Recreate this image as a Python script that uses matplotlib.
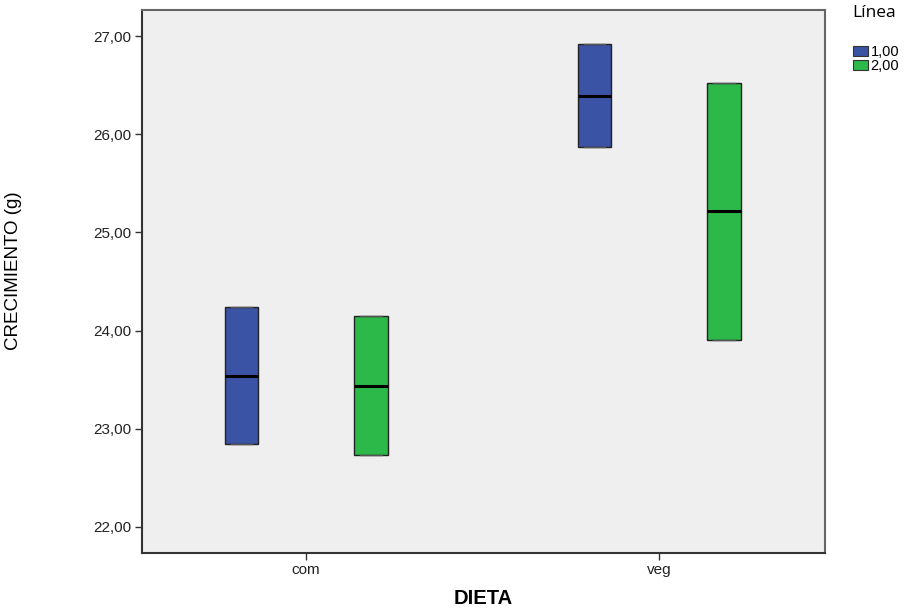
import matplotlib

matplotlib.use("Agg")
import matplotlib.pyplot as plt
from matplotlib.patches import Patch
from matplotlib.ticker import FuncFormatter

# data (boxes only, whiskers collapse on the box)
dietas = ["com", "veg"]
lineas = ["1,00", "2,00"]
q1 = {"1,00": [22.85, 25.87], "2,00": [22.73, 23.90]}
mediana = {"1,00": [23.54, 26.39], "2,00": [23.44, 25.22]}
q3 = {"1,00": [24.24, 26.92], "2,00": [24.15, 26.52]}
colores = {"1,00": "#3A53A4", "2,00": "#2DB84A"}
y_ticks = [22, 23, 24, 25, 26, 27]

plt.rcParams["font.family"] = ["Liberation Sans", "DejaVu Sans"]

fig = plt.figure(figsize=(9.09, 6.09), dpi=100)
ax = fig.add_axes([142 / 909, 1 - 553 / 609, 683 / 909, 543 / 609])
ax.set_facecolor("#EFEFEF")

offsets = {"1,00": -0.184, "2,00": 0.184}
for linea in lineas:
    stats = []
    for i, d in enumerate(dietas):
        stats.append({
            "med": mediana[linea][i], "q1": q1[linea][i], "q3": q3[linea][i],
            "whislo": q1[linea][i], "whishi": q3[linea][i], "fliers": [],
        })
    pos = [i + offsets[linea] for i in range(len(dietas))]
    ax.bxp(stats, positions=pos, widths=0.094, patch_artist=True,
           showfliers=False, manage_ticks=False,
           boxprops=dict(facecolor=colores[linea], edgecolor="#222222", linewidth=1.0),
           medianprops=dict(color="black", linewidth=2.2),
           whiskerprops=dict(color="#222222", linewidth=1.0),
           capprops=dict(color="#555555", linewidth=1.0), capwidths=0.06)

ax.set_xlim(-0.465, 1.47)
ax.set_ylim(21.735, 27.265)
ax.set_xticks(range(len(dietas)))
ax.set_xticklabels(dietas, fontsize=11, color="#222222")
ax.set_yticks(y_ticks)
ax.yaxis.set_major_formatter(FuncFormatter(lambda v, p: f"{v:.2f}".replace(".", ",")))
ax.tick_params(axis="y", labelsize=11, labelcolor="#222222", length=5, width=1.0,
               color="#333333", pad=3)
ax.tick_params(axis="x", length=5, width=1.0, color="#333333", pad=2)

for side in ["left", "bottom"]:
    ax.spines[side].set_color("#333333")
    ax.spines[side].set_linewidth(1.5)
for side in ["top", "right"]:
    ax.spines[side].set_color("#666666")
    ax.spines[side].set_linewidth(1.5)

ax.set_ylabel("CRECIMIENTO (g)", fontsize=13.5)
ax.yaxis.set_label_coords(-0.175, 0.52)
ax.set_xlabel("DIETA", fontsize=14.5, fontweight="bold")
ax.xaxis.set_label_coords(0.5, -0.066)

handles = [Patch(facecolor=colores[l], edgecolor="#333333", linewidth=0.8, label=l) for l in lineas]
fig.legend(handles=handles, loc="upper left", bbox_to_anchor=(0.932, 0.935),
           frameon=False, fontsize=10.5, handlelength=1.0, handleheight=0.7,
           handletextpad=0.2, labelspacing=0.0, borderaxespad=0)
fig.text(0.938, 0.978, "Línea", fontsize=12.5, ha="left", va="center",
         family=["Open Sans", "DejaVu Sans"])

fig.savefig("out.png", dpi=100, facecolor="white")
